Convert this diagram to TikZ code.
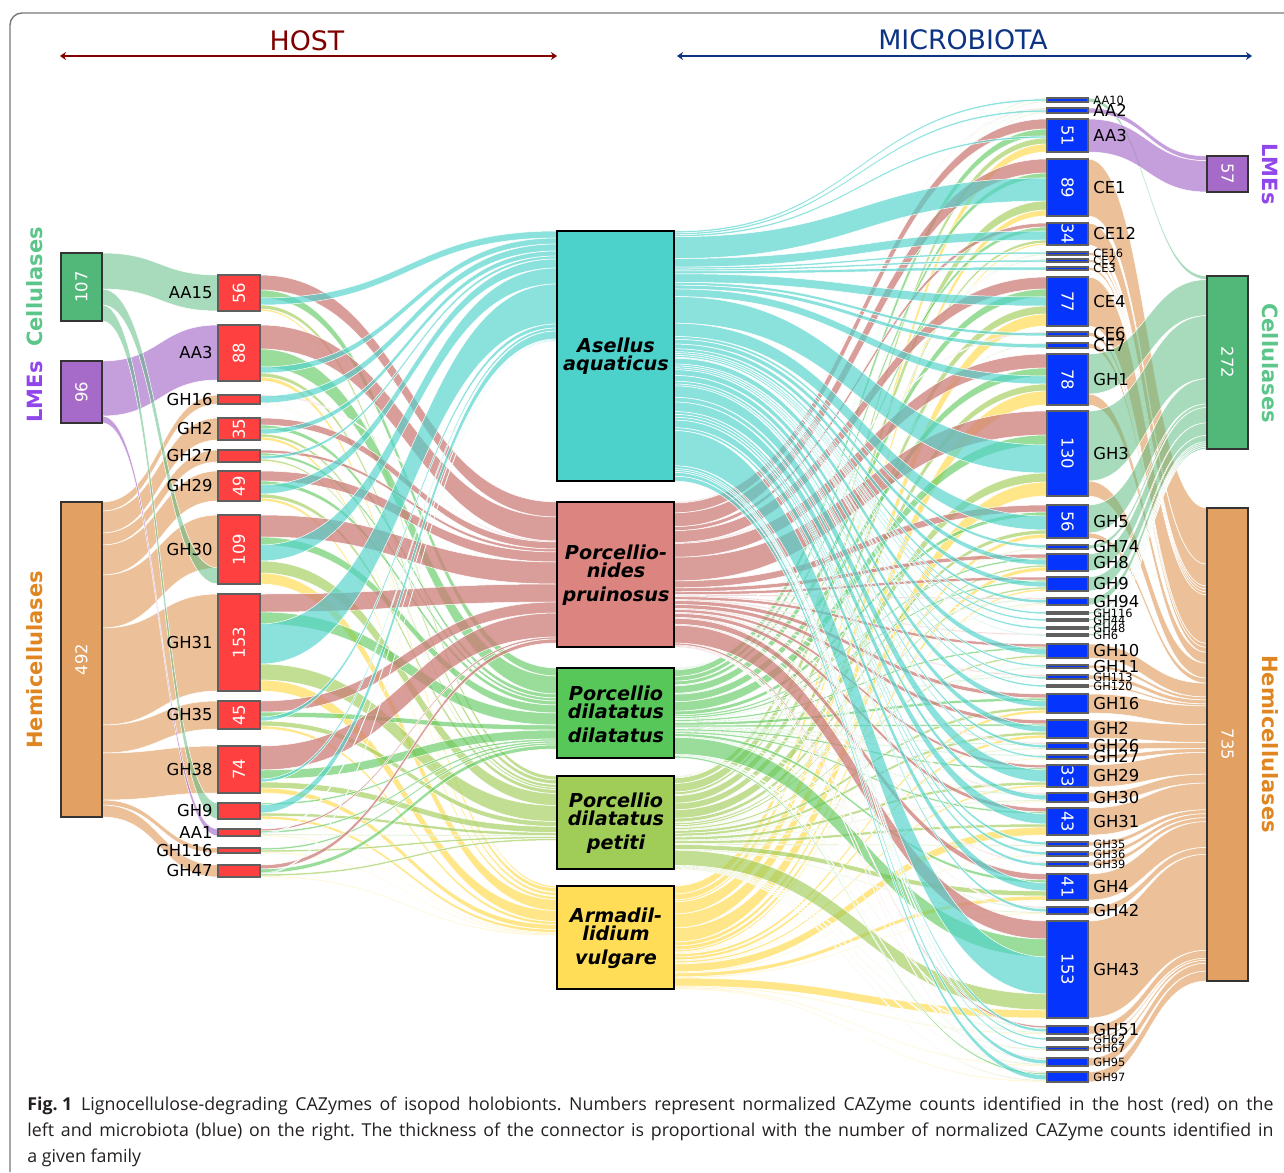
\documentclass[tikz,border=0pt]{standalone}
\usepackage{fontspec}
\setmainfont{DejaVu Sans}[ItalicFont={DejaVu Sans Oblique},BoldFont={DejaVu Sans Bold},BoldItalicFont={DejaVu Sans Bold Oblique}]
\newfontfamily\capfont{Open Sans}
\usetikzlibrary{arrows.meta}
\frenchspacing
\definecolor{hostred}{RGB}{255,64,64}
\definecolor{microblue}{RGB}{5,52,252}
\definecolor{cellC}{RGB}{82,184,122}
\definecolor{lmeC}{RGB}{166,107,201}
\definecolor{hemiC}{RGB}{226,160,98}
\definecolor{spA}{RGB}{77,210,203}
\definecolor{spP}{RGB}{219,132,128}
\definecolor{spPf}{RGB}{205,125,120}
\definecolor{spD}{RGB}{87,199,89}
\definecolor{spT}{RGB}{160,204,88}
\definecolor{spV}{RGB}{255,221,87}
\definecolor{txtC}{RGB}{91,197,138}
\definecolor{txtL}{RGB}{145,70,236}
\definecolor{txtH}{RGB}{224,133,32}
\definecolor{hostdark}{RGB}{128,0,0}
\definecolor{micdark}{RGB}{12,52,130}
\definecolor{capgray}{RGB}{35,31,32}
\definecolor{framegray}{RGB}{120,120,120}
\definecolor{bordgray}{RGB}{95,95,95}

\makeatletter
\newcommand\regnode[4]{%
  \expandafter\xdef\csname snk@xl@#1\endcsname{#2}%
  \expandafter\xdef\csname snk@xr@#1\endcsname{#3}%
  \expandafter\xdef\csname snk@ci@#1\endcsname{#4}%
  \expandafter\xdef\csname snk@co@#1\endcsname{#4}}
\newcommand\flow[5]{%
  \pgfmathsetmacro\snkya{\csname snk@co@#1\endcsname}%
  \pgfmathsetmacro\snkyb{\snkya+(#3)}%
  \pgfmathsetmacro\snkyc{\csname snk@ci@#2\endcsname}%
  \pgfmathsetmacro\snkyd{\snkyc+(#4)}%
  \expandafter\xdef\csname snk@co@#1\endcsname{\snkyb}%
  \expandafter\xdef\csname snk@ci@#2\endcsname{\snkyd}%
  \edef\snkxa{\csname snk@xr@#1\endcsname}%
  \edef\snkxb{\csname snk@xl@#2\endcsname}%
  \pgfmathsetmacro\snkxm{(\snkxa+\snkxb)/2}%
  \fill[flowbase,#5] (\snkxa,\snkya) .. controls (\snkxm,\snkya) and (\snkxm,\snkyc) .. (\snkxb,\snkyc) -- (\snkxb,\snkyd) .. controls (\snkxm,\snkyd) and (\snkxm,\snkyb) .. (\snkxa,\snkyb) -- cycle;}
\makeatother
\newcommand\fif[6]{\ifdim#1pt>0pt\relax\flow{#2}{#3}{#4}{#5}{#6}\fi}
\def\kP{0.9864}\def\kD{0.9375}\def\kA{0.9506}\def\kT{0.9394}\def\kV{1}
\def\kL{0.947}\def\kC{0.901}\def\kH{0.9895}
\newcommand\hf[6]{\fif{#2}{h#1}{sP}{#2}{#2}{fP}\fif{#3}{h#1}{sD}{#3}{#3}{fD}\fif{#4}{h#1}{sA}{#4}{#4}{fA}\fif{#5}{h#1}{sT}{#5}{#5}{fT}\fif{#6}{h#1}{sV}{#6}{#6}{fV}}
\newcommand\mf[6]{\fif{#2}{sP}{m#1}{#2*\kP}{#2}{fP}\fif{#3}{sD}{m#1}{#3*\kD}{#3}{fD}\fif{#4}{sA}{m#1}{#4*\kA}{#4}{fA}\fif{#5}{sT}{m#1}{#5*\kT}{#5}{fT}\fif{#6}{sV}{m#1}{#6*\kV}{#6}{fV}}
\newcommand\lf[4]{\fif{#2}{lH}{h#1}{#2}{#2}{fH}\fif{#3}{lC}{h#1}{#3}{#3}{fC}\fif{#4}{lL}{h#1}{#4}{#4}{fL}}
\newcommand\rf[4]{\fif{#2}{m#1}{rL}{#2}{#2*\kL}{fL}\fif{#3}{m#1}{rC}{#3}{#3*\kC}{fC}\fif{#4}{m#1}{rH}{#4}{#4*\kH}{fH}}

\newcommand\hostlist{%
 \HN{AA15}{275}{36}{56}\HN{AA3}{325}{56}{88}\HN{GH16}{395}{9}{}\HN{GH2}{418}{22}{35}%
 \HN{GH27}{450}{12}{}\HN{GH29}{471}{30}{49}\HN{GH30}{515}{69}{109}\HN{GH31}{594}{97}{153}%
 \HN{GH35}{701}{28}{45}\HN{GH38}{746}{47}{74}\HN{GH9}{803}{16}{}\HN{AA1}{829}{7}{}%
 \HN{GH116}{848}{5}{}\HN{GH47}{865}{12}{}}
\newcommand\microlist{%
 \MN{AA10}{98}{4}{}{s}\MN{AA2}{108}{5}{}{b}\MN{AA3}{119}{33}{51}{b}\MN{CE1}{159}{57}{89}{b}%
 \MN{CE12}{223}{22}{34}{b}\MN{CE16}{252}{3}{}{s}\MN{CE2}{259}{3}{}{s}\MN{CE3}{267}{3}{}{s}%
 \MN{CE4}{277}{49}{77}{b}\MN{CE6}{332}{4}{}{b}\MN{CE7}{343}{5}{}{b}\MN{GH1}{354}{51}{78}{b}%
 \MN{GH3}{411}{85}{130}{b}\MN{GH5}{505}{33}{56}{b}\MN{GH74}{545}{4}{}{b}\MN{GH8}{554}{17}{}{b}%
 \MN{GH9}{577}{14}{}{b}\MN{GH94}{598}{7}{}{b}\MN{GH116}{612}{2}{}{s}\MN{GH44}{619}{2}{}{s}%
 \MN{GH48}{627}{2}{}{s}\MN{GH6}{634}{2}{}{s}\MN{GH10}{644}{14}{}{b}\MN{GH11}{665}{3}{}{b}%
 \MN{GH113}{675}{4}{}{s}\MN{GH120}{685}{2}{}{s}\MN{GH16}{694}{19}{}{b}\MN{GH2}{720}{18}{}{b}%
 \MN{GH26}{743}{6}{}{b}\MN{GH27}{755}{4}{}{b}\MN{GH29}{765}{22}{33}{b}\MN{GH30}{793}{9}{}{b}%
 \MN{GH31}{808}{27}{43}{b}\MN{GH35}{842}{4}{}{s}\MN{GH36}{852}{4}{}{s}\MN{GH39}{862}{4}{}{s}%
 \MN{GH4}{874}{26}{41}{b}\MN{GH42}{907}{7}{}{b}\MN{GH43}{921}{97}{153}{b}\MN{GH51}{1026}{8}{}{b}%
 \MN{GH62}{1038}{2}{}{s}\MN{GH67}{1047}{3}{}{s}\MN{GH95}{1058}{8}{}{s}\MN{GH97}{1072}{10}{}{s}}
\newcommand\catlist{%
 \CN{lC}{61}{102}{253}{68}{cellC}{107}{90}\CN{lL}{61}{102}{361}{62}{lmeC}{96}{90}%
 \CN{lH}{61}{102}{502}{315}{hemiC}{492}{90}%
 \CN{rL}{1207}{1249}{156}{36}{lmeC}{57}{-90}\CN{rC}{1207}{1249}{276}{173}{cellC}{272}{-90}%
 \CN{rH}{1207}{1249}{508}{473}{hemiC}{735}{-90}}
\newcommand\specieslist{%
 \SN{sA}{231}{250}{spA}\SN{sP}{502}{145}{spP}\SN{sD}{668}{90}{spD}\SN{sT}{776}{93}{spT}\SN{sV}{886}{103}{spV}}

\begin{document}
\begin{tikzpicture}[x=0.5pt,y=-0.5pt,
  flowbase/.style={draw=white,line width=0.25pt},
  fP/.style={fill=spPf,fill opacity=0.75},
  fD/.style={fill=spD,fill opacity=0.6},
  fA/.style={fill=spA,fill opacity=0.65},
  fT/.style={fill=spT,fill opacity=0.65},
  fV/.style={fill=spV,fill opacity=0.7},
  fC/.style={fill=cellC,fill opacity=0.5},
  fH/.style={fill=hemiC,fill opacity=0.65},
  fL/.style={fill=lmeC,fill opacity=0.65},
  hostbox/.style={draw=bordgray,line width=0.75pt,fill=hostred,inner sep=0pt,outer sep=0pt,minimum width=21pt},
  microbox/.style={draw=bordgray,line width=0.8pt,fill=microblue,inner sep=0pt,outer sep=0pt,minimum width=20.5pt},
  catbox/.style={draw=black!80,line width=0.75pt,inner sep=0pt,outer sep=0pt,minimum width=20.5pt},
  spbox/.style={draw=black,line width=0.6pt,inner sep=0pt,outer sep=0pt,minimum width=58.5pt},
  hostlab/.style={font=\fontsize{8.2}{9}\selectfont,inner sep=0pt},
  mlabb/.style={font=\fontsize{8.2}{9}\selectfont,inner sep=0pt},
  mlabs/.style={font=\fontsize{5.7}{6.5}\selectfont,inner sep=0pt},
  numlab/.style={font=\fontsize{8.2}{9}\selectfont,text=white,inner sep=0pt},
  splab/.style={font=\fontsize{9.6}{10}\selectfont\bfseries\itshape,inner sep=0pt,anchor=base},
  sidelab/.style={font=\fontsize{10.5}{11}\selectfont\bfseries,inner sep=0pt},
  hdr/.style={font=\fontsize{13.4}{15}\selectfont,inner sep=0pt},
  capstyle/.style={font=\capfont\fontsize{8.9}{11}\selectfont,text=capgray,inner sep=0pt,anchor=base west}]
\useasboundingbox (0,0) rectangle (1284,1172);
% frame
\draw[framegray,line width=0.7pt,rounded corners=6pt] (10,1172) -- (10,13) -- (1290,13);
% headers
\coordinate (hostL) at (60,56); \coordinate (hostR) at (557,56);
\coordinate (micL) at (677,56); \coordinate (micR) at (1252,56);
\draw[hostdark,line width=1pt,{Stealth[length=3pt,width=4pt,inset=1pt]}-{Stealth[length=3pt,width=4pt,inset=1pt]}] (hostL) -- (hostR);
\draw[micdark,line width=1pt,{Stealth[length=3pt,width=4pt,inset=1pt]}-{Stealth[length=3pt,width=4pt,inset=1pt]}] (micL) -- (micR);
\node[hdr,text=hostdark] (hosttxt) at (307,41) {HOST};
\node[hdr,text=micdark] (mictxt) at (963,40) {MICROBIOTA};

% register nodes
\def\HN#1#2#3#4{\regnode{h#1}{218}{260}{#2}}
\def\MN#1#2#3#4#5{\regnode{m#1}{1047}{1088}{#2}}
\def\CN#1#2#3#4#5#6#7#8{\regnode{#1}{#2}{#3}{#4}}
\def\SN#1#2#3#4{\regnode{#1}{557}{674}{#2}}
\hostlist\microlist\catlist\specieslist

% category -> host flows
\lf{AA15}{0}{36}{0}
\lf{AA3}{0}{0}{55}
\lf{GH16}{9}{0}{0}
\lf{GH2}{22}{0}{0}
\lf{GH27}{12}{0}{0}
\lf{GH29}{30}{0}{0}
\lf{GH30}{53}{16}{0}
\lf{GH31}{97}{0}{0}
\lf{GH35}{28}{0}{0}
\lf{GH38}{47}{0}{0}
\lf{GH9}{0}{16}{0}
\lf{AA1}{0}{0}{7}
\lf{GH116}{5}{0}{0}
\lf{GH47}{12}{0}{0}

% host -> species flows (P D A T V)
\hf{AA15}{15}{8}{7}{4}{2}
\hf{AA3}{24}{18}{6}{4}{4}
\hf{GH16}{1}{0}{7}{0.5}{0.5}
\hf{GH2}{7}{4}{5}{3}{3}
\hf{GH27}{3}{3}{3}{2}{1}
\hf{GH29}{10}{4}{9}{4}{3}
\hf{GH30}{22}{8}{16}{12}{11}
\hf{GH31}{18}{12}{40}{16}{11}
\hf{GH35}{11}{5}{4}{5}{3}
\hf{GH38}{24}{9}{3}{6}{5}
\hf{GH9}{0}{2}{8}{3}{3}
\hf{AA1}{2}{2}{1}{1}{1}
\hf{GH116}{0}{2}{0}{2}{1}
\hf{GH47}{4}{4}{1}{2}{1}

% species -> microbiota flows (P D A T V)
\mf{AA10}{0}{1}{2}{1}{0}
\mf{AA2}{1}{1}{2}{1}{0}
\mf{AA3}{10}{7}{2}{6}{8}
\mf{CE1}{14}{5}{23}{9}{6}
\mf{CE12}{4}{4}{9}{3}{2}
\mf{CE16}{0}{0}{2}{1}{0}
\mf{CE2}{0}{1}{2}{0}{0}
\mf{CE3}{0}{0}{3}{0}{0}
\mf{CE4}{12}{8}{9}{8}{12}
\mf{CE6}{1}{0}{3}{0}{0}
\mf{CE7}{0}{1}{4}{0}{0}
\mf{GH1}{14}{8}{8}{7}{14}
\mf{GH3}{24}{10}{28}{9}{14}
\mf{GH5}{7}{4}{14}{4}{4}
\mf{GH74}{0}{0}{3}{1}{0}
\mf{GH8}{4}{2}{5}{2}{4}
\mf{GH9}{3}{2}{5}{2}{2}
\mf{GH94}{1}{1}{3}{1}{1}
\mf{GH116}{0}{0}{2}{0}{0}
\mf{GH44}{0}{0}{2}{0}{0}
\mf{GH48}{0}{0}{2}{0}{0}
\mf{GH6}{1}{0}{1}{0}{0}
\mf{GH10}{3}{2}{6}{2}{1}
\mf{GH11}{0}{0}{2}{1}{0}
\mf{GH113}{1}{1}{2}{0}{0}
\mf{GH120}{0}{0}{2}{0}{0}
\mf{GH16}{4}{3}{6}{3}{3}
\mf{GH2}{4}{2}{6}{3}{3}
\mf{GH26}{1}{1}{3}{1}{0}
\mf{GH27}{0}{1}{2}{0}{1}
\mf{GH29}{3}{2}{12}{3}{2}
\mf{GH30}{1}{1}{5}{1}{1}
\mf{GH31}{4}{2}{10}{3}{8}
\mf{GH35}{0}{0}{3}{1}{0}
\mf{GH36}{0}{0}{3}{0}{1}
\mf{GH39}{1}{0}{3}{0}{0}
\mf{GH4}{6}{3}{8}{5}{4}
\mf{GH42}{1}{1}{3}{1}{1}
\mf{GH43}{18}{18}{37}{16}{8}
\mf{GH51}{2}{1}{3}{1}{1}
\mf{GH62}{0}{0}{2}{0}{0}
\mf{GH67}{0}{0}{2}{1}{0}
\mf{GH95}{1}{1}{4}{1}{1}
\mf{GH97}{1}{2}{5}{1}{1}

% microbiota -> category flows (L C H)
\rf{AA10}{0}{4}{0}
\rf{AA2}{5}{0}{0}
\rf{AA3}{33}{0}{0}
\rf{CE1}{0}{0}{57}
\rf{CE12}{0}{0}{22}
\rf{CE16}{0}{0}{3}
\rf{CE2}{0}{0}{3}
\rf{CE3}{0}{0}{3}
\rf{CE4}{0}{0}{49}
\rf{CE6}{0}{0}{4}
\rf{CE7}{0}{0}{5}
\rf{GH1}{0}{40}{11}
\rf{GH3}{0}{70}{15}
\rf{GH5}{0}{28}{5}
\rf{GH74}{0}{4}{0}
\rf{GH8}{0}{17}{0}
\rf{GH9}{0}{14}{0}
\rf{GH94}{0}{7}{0}
\rf{GH116}{0}{2}{0}
\rf{GH44}{0}{2}{0}
\rf{GH48}{0}{2}{0}
\rf{GH6}{0}{2}{0}
\rf{GH10}{0}{0}{14}
\rf{GH11}{0}{0}{3}
\rf{GH113}{0}{0}{4}
\rf{GH120}{0}{0}{2}
\rf{GH16}{0}{0}{19}
\rf{GH2}{0}{0}{18}
\rf{GH26}{0}{0}{6}
\rf{GH27}{0}{0}{4}
\rf{GH29}{0}{0}{22}
\rf{GH30}{0}{0}{9}
\rf{GH31}{0}{0}{27}
\rf{GH35}{0}{0}{4}
\rf{GH36}{0}{0}{4}
\rf{GH39}{0}{0}{4}
\rf{GH4}{0}{0}{26}
\rf{GH42}{0}{0}{7}
\rf{GH43}{0}{0}{97}
\rf{GH51}{0}{0}{8}
\rf{GH62}{0}{0}{2}
\rf{GH67}{0}{0}{3}
\rf{GH95}{0}{0}{8}
\rf{GH97}{0}{0}{10}

% draw nodes
\def\HN#1#2#3#4{%
  \node[hostbox,minimum height=#3*0.5pt,anchor=north west] (h#1) at (218,#2) {};
  \node[hostlab,anchor=east] (h#1-l) at (213,{#2+#3/2}) {#1};
  \ifx\relax#4\relax\else\node[numlab,rotate=90] (h#1-n) at (h#1.center) {#4};\fi}
\def\MN#1#2#3#4#5{%
  \node[microbox,minimum height=#3*0.5pt,anchor=north west] (m#1) at (1047,#2) {};
  \node[mlab#5,anchor=west] (m#1-l) at (1093,{#2+#3/2}) {#1};
  \ifx\relax#4\relax\else\node[numlab,rotate=-90] (m#1-n) at (m#1.center) {#4};\fi}
\def\CN#1#2#3#4#5#6#7#8{%
  \node[catbox,fill=#6,minimum height=#5*0.5pt,anchor=north west] (#1) at (#2,#4) {};
  \node[numlab,rotate=#8] (#1-n) at (#1.center) {#7};}
\def\SN#1#2#3#4{%
  \node[spbox,fill=#4,minimum height=#3*0.5pt,anchor=north west] (#1) at (557,#2) {};}
\hostlist\microlist\catlist\specieslist

% species labels
\node[splab] (sA-1) at (616,352) {Asellus};
\node[splab] (sA-2) at (616,370) {aquaticus};
\node[splab] (sP-1) at (616,559) {Porcellio-};
\node[splab] (sP-2) at (616,577) {nides};
\node[splab] (sP-3) at (616,601) {pruinosus};
\node[splab] (sD-1) at (616,700) {Porcellio};
\node[splab] (sD-2) at (616,718) {dilatatus};
\node[splab] (sD-3) at (616,742) {dilatatus};
\node[splab] (sT-1) at (616,807) {Porcellio};
\node[splab] (sT-2) at (616,825) {dilatatus};
\node[splab] (sT-3) at (616,849) {petiti};
\node[splab] (sV-1) at (616,922) {Armadil-};
\node[splab] (sV-2) at (616,940) {lidium};
\node[splab] (sV-3) at (616,964) {vulgare};

% side labels
\node[sidelab,text=txtC,rotate=90] (lCt) at (35,287) {Cellulases};
\node[sidelab,text=txtL,rotate=90] (lLt) at (35,392) {LMEs};
\node[sidelab,text=txtH,rotate=90] (lHt) at (35,660) {Hemicellulases};
\node[sidelab,text=txtL,rotate=-90] (rLt) at (1270,174) {LMEs};
\node[sidelab,text=txtC,rotate=-90] (rCt) at (1270,363) {Cellulases};
\node[sidelab,text=txtH,rotate=-90] (rHt) at (1270,744) {Hemicellulases};

% caption
\node[capstyle] (cap1) at (27,1110) {\makebox[623pt][s]{\mbox{\textbf{Fig.\kern0.25em1}}\enspace Lignocellulose-degrading CAZymes of isopod holobionts. Numbers represent normalized CAZyme counts identified in the host (red) on the}};
\node[capstyle] (cap2) at (27,1136) {\makebox[623pt][s]{left and microbiota (blue) on the right. The thickness of the connector is proportional with the number of normalized CAZyme counts identified in}};
\node[capstyle] (cap3) at (27,1162) {a given family};
\end{tikzpicture}
\end{document}
